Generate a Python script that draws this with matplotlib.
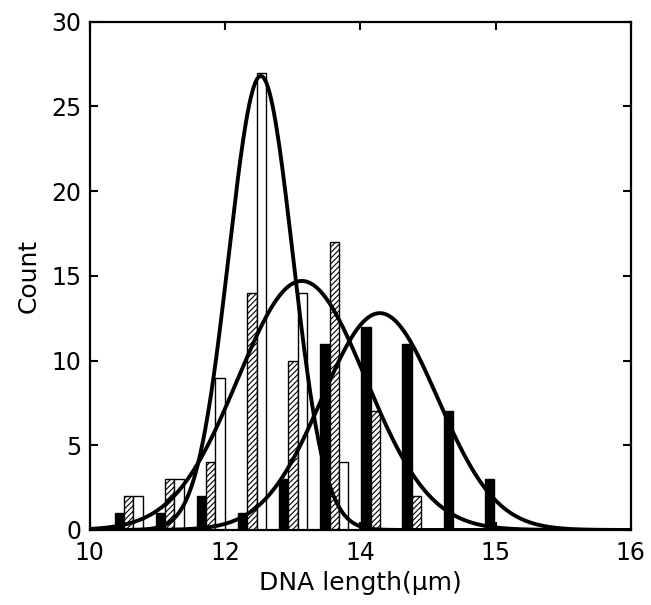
import matplotlib
matplotlib.use("Agg")
import matplotlib.pyplot as plt
import numpy as np

# bin centres (axis units) and counts for the three samples
bin_centers = [10.43, 10.886, 11.342, 11.798, 12.254, 12.71, 13.166, 13.622, 14.078, 14.534]
black_counts = [1, 1, 2, 1, 3, 11, 12, 11, 7, 3]
hatched_counts = [2, 3, 4, 14, 10, 17, 7, 2, 0, 0]
white_counts = [2, 3, 9, 27, 14, 4, 0, 0, 0, 0]

# gaussian fits: (centre, sigma, amplitude)
fit_white = (11.896, 0.355, 26.8)
fit_hatched = (12.351, 0.71, 14.7)
fit_black = (13.216, 0.643, 12.8)

xtick_pos = [10, 11.5, 13, 14.5, 16]
xtick_labels = ["10", "12", "14", "15", "16"]
yticks = [0, 5, 10, 15, 20, 25, 30]

plt.rcParams["hatch.linewidth"] = 0.8

fig = plt.figure(figsize=(6.51, 6.05), dpi=100)
ax = fig.add_axes([0.138, 0.124, 0.831, 0.840])

centers = np.array(bin_centers)
w = 0.103
ax.bar(centers - w, black_counts, width=w, color="black", edgecolor="black", linewidth=1.0, zorder=2)
ax.bar(centers, hatched_counts, width=w, color="white", edgecolor="black", hatch="//////", linewidth=1.0, zorder=2)
ax.bar(centers + w, white_counts, width=w, color="white", edgecolor="black", linewidth=1.0, zorder=2)

xs = np.linspace(10, 16, 600)
for mu, sig, amp in (fit_white, fit_hatched, fit_black):
    ax.plot(xs, amp * np.exp(-(xs - mu) ** 2 / (2 * sig ** 2)), color="black", linewidth=2.8, zorder=3)

ax.set_xlim(10, 16)
ax.set_ylim(0, 30)
ax.set_xticks(xtick_pos)
ax.set_xticklabels(xtick_labels)
ax.set_yticks(yticks)

for spine in ax.spines.values():
    spine.set_linewidth(1.6)
ax.tick_params(direction="in", length=6, width=1.5, top=True, right=True, labelsize=17, pad=6)
ax.tick_params(axis="x", pad=8)

ax.set_xlabel("DNA length(μm)", fontsize=18, labelpad=4)
ax.set_ylabel("Count", fontsize=18, labelpad=8)

fig.savefig("out.png", dpi=100, facecolor="white")
plt.close(fig)
